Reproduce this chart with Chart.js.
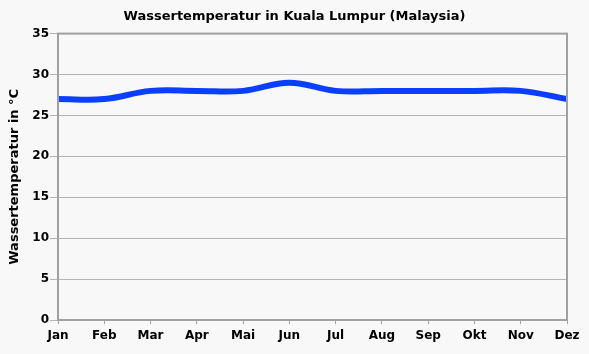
<!DOCTYPE html>
<html><head><meta charset="utf-8">
<script src="https://cdn.jsdelivr.net/npm/chart.js@4"></script>
<style>html,body{margin:0;padding:0;background:#f8f8f8;}#wrap{width:589px;height:354px;}</style>
</head><body><div id="wrap"><canvas id="c" width="589" height="354"></canvas></div>
<script>
const months = ['Jan','Feb','Mar','Apr','Mai','Jun','Jul','Aug','Sep','Okt','Nov','Dez'];
const waterTemp = [27,27,28,28,28,29,28,28,28,28,28,27];
const yTicks = [0,5,10,15,20,25,30,35];

const boxPlugin = {
  id:'box',
  afterDraw(chart){
    const a = chart.chartArea, ctx = chart.ctx;
    ctx.save(); ctx.strokeStyle='#a0a0a0'; ctx.lineWidth=2;
    ctx.strokeRect(a.left, a.top, a.right-a.left, a.bottom-a.top);
    ctx.restore();
  }
};
Chart.defaults.font.family = '"DejaVu Sans", Verdana, sans-serif';
Chart.defaults.color = '#000';
new Chart(document.getElementById('c'), {
  type:'line',
  data:{labels:months, datasets:[{data:waterTemp, borderColor:'#0a3fff', borderWidth:6, tension:0.4, pointRadius:0, fill:false, clip:false}]},
  options:{
    responsive:false, animation:false,
    layout:{padding:0},
    plugins:{legend:{display:false}, tooltip:{enabled:false},
      title:{display:true, text:'Wassertemperatur in Kuala Lumpur (Malaysia)', font:{size:13,weight:'bold'}, color:'#000', padding:{top:9,bottom:9}}},
    scales:{
      x:{type:'category', offset:false,
        grid:{drawOnChartArea:false, drawTicks:true, tickLength:4, color:'#a0a0a0', lineWidth:1},
        border:{color:'#a0a0a0', width:2},
        ticks:{font:{size:12,weight:'bold'}, padding:5, maxRotation:0, autoSkip:false},
        afterFit(s){ s.height = 34; }
      },
      y:{min:0,max:35,
        afterBuildTicks(s){ s.ticks = yTicks.map(v=>({value:v})); },
        grid:{color:'#b4b4b4', lineWidth:1, tickLength:8},
        border:{color:'#a0a0a0', width:2},
        ticks:{font:{size:12,weight:'bold'}, padding:1},
        title:{display:true, text:'Wassertemperatur in °C', font:{size:13,weight:'bold'}, padding:{top:7,bottom:4}},
        afterFit(s){ s.width = 58; }
      },
      yr:{position:'right', min:0, max:35,
        grid:{display:false}, border:{display:false}, ticks:{display:false},
        afterFit(s){ s.width = 22; }
      }
    }
  },
  plugins:[boxPlugin]
});
</script></body></html>
